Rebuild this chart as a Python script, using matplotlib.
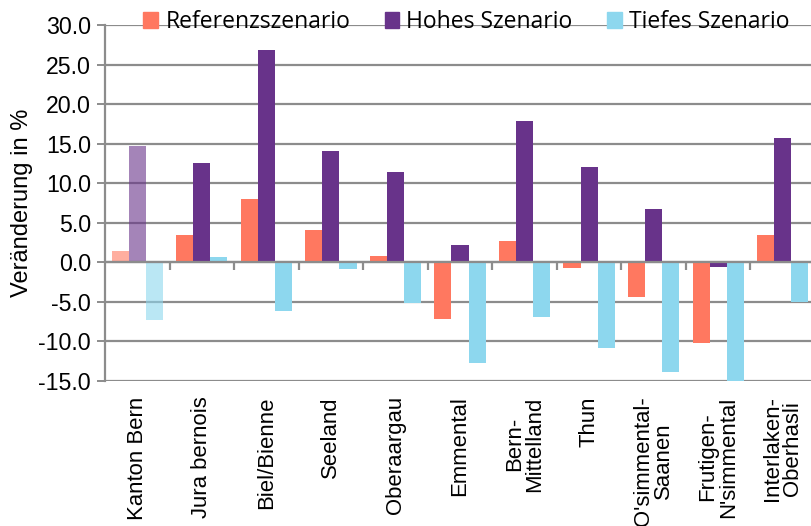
import numpy as np
import matplotlib.pyplot as plt
from matplotlib.patches import Patch

regions = ['Kanton Bern', 'Jura bernois', 'Biel/Bienne', 'Seeland', 'Oberaargau',
           'Emmental', 'Bern-\nMittelland', 'Thun', "O'simmental-\nSaanen",
           'Frutigen-\nN\'simmental', 'Interlaken-\nOberhasli']
referenz = [1.4, 3.4, 8.0, 4.1, 0.8, -7.1, 2.7, -0.7, -4.4, -10.2, 3.4]
hohes = [14.7, 12.6, 26.9, 14.1, 11.4, 2.2, 17.9, 12.0, 6.7, -0.6, 15.7]
tiefes = [-7.3, 0.7, -6.1, -0.8, -5.2, -12.7, -6.9, -10.8, -13.8, -15.3, -5.0]
series_names = ['Referenzszenario', 'Hohes Szenario', 'Tiefes Szenario']
colors = ['#FF7860', '#68338A', '#8DD7EE']

fig = plt.figure(figsize=(8.11, 5.26), dpi=100)
ax = fig.add_axes([105 / 811, 145 / 526, 710 / 811, 356 / 526])

x = np.arange(len(regions))
w = 0.265
for k, vals in enumerate([referenz, hohes, tiefes]):
    bars = ax.bar(x + (k - 1) * w, vals, width=w, color=colors[k], zorder=3)
    # first group (canton total) drawn lighter
    bars[0].set_alpha(0.6)

ax.set_xlim(-0.5, len(regions) - 0.5)
ax.set_ylim(-15, 30)
ax.set_yticks(np.arange(-15, 31, 5))
ax.set_yticklabels(['%.1f' % v for v in np.arange(-15, 31, 5)],
                   fontsize=16.7, family='Liberation Sans')
ax.yaxis.grid(True, color='#8c8c8c', lw=1.6, zorder=0)
ax.tick_params(axis='y', length=6, color='#8c8c8c', width=1.4, pad=4)

ax.set_xticks(x)
ax.set_xticklabels(regions, rotation=90, fontsize=15.9, family='Liberation Sans',
                   va='top', ha='center', linespacing=0.95)
ax.tick_params(axis='x', length=0, pad=11)

# zero axis with group separator ticks
ax.axhline(0, color='#8c8c8c', lw=1.6, zorder=4)
ax.vlines(x[:-1] + 0.5, -1.0, 0, color='#8c8c8c', lw=1.6, zorder=4)

for s in ['top', 'right', 'bottom']:
    ax.spines[s].set_visible(False)
ax.spines['left'].set_color('#8c8c8c')
ax.spines['left'].set_linewidth(1.6)

ax.set_ylabel('Veränderung in %', fontsize=17, family='Liberation Sans', labelpad=4)

handles = [Patch(color=c) for c in colors]
fig.legend(handles, series_names, loc='upper center', bbox_to_anchor=(0.575, 1.02),
           ncol=3, frameon=False, prop={'family': 'Open Sans', 'size': 16.5},
           handlelength=0.65, handleheight=0.65, handletextpad=0.3, columnspacing=1.5)

fig.savefig('out.png', dpi=100)
